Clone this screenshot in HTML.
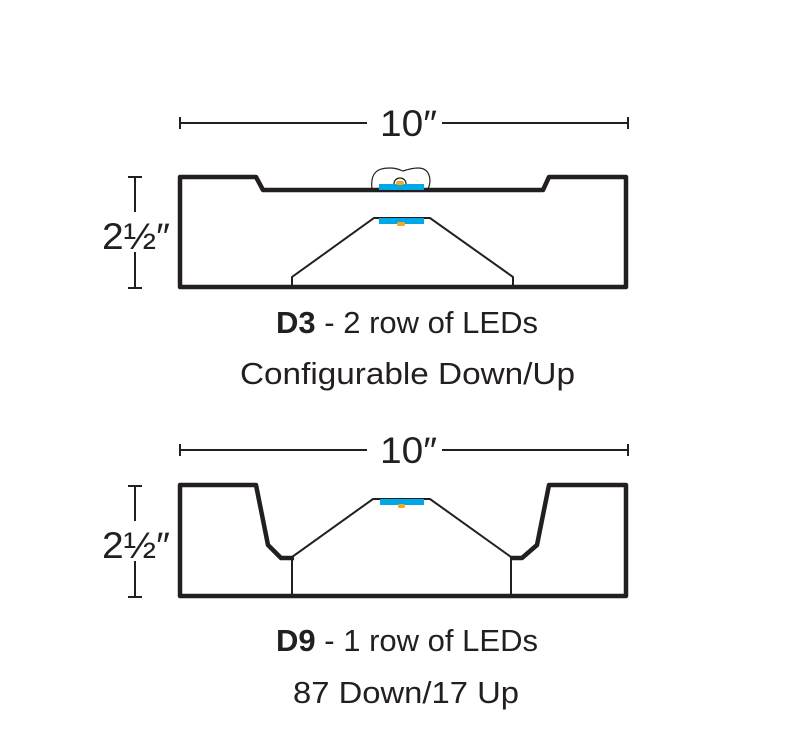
<!DOCTYPE html>
<html><head><meta charset="utf-8"><style>
html,body{margin:0;padding:0;background:#fff;}
svg{display:block;}
text{font-family:"Liberation Sans",sans-serif;fill:#231f20;}
</style></head><body>
<svg width="799" height="756" viewBox="0 0 799 756" xmlns="http://www.w3.org/2000/svg">
<g stroke="#231f20" fill="none">
<line x1="180" y1="123" x2="367" y2="123" stroke-width="2"/>
<line x1="442" y1="123" x2="628" y2="123" stroke-width="2"/>
<line x1="180" y1="117" x2="180" y2="129" stroke-width="2"/>
<line x1="628" y1="117" x2="628" y2="129" stroke-width="2"/>
<line x1="135" y1="177" x2="135" y2="212" stroke-width="2"/>
<line x1="135" y1="252" x2="135" y2="288" stroke-width="2"/>
<line x1="128" y1="177" x2="142" y2="177" stroke-width="2"/>
<line x1="128" y1="288" x2="142" y2="288" stroke-width="2"/>
<path d="M180 177 L256 177 L263 190 L543 190 L549 177 L626 177 L626 287 L180 287 Z" stroke-width="4.5" stroke-linejoin="round"/>
<path d="M292 287 L292 277 L374 218 L430 218 L513 277 L513 287" stroke-width="2"/>
<path d="M372 189 C370 172 378 168 390 168 C398 168 402 171 403 171 C406 170 412 168 418 168 C430 168 432 180 428 189" stroke-width="1.2"/>
<path d="M394 184 C394 176 406 176 406 184" stroke-width="1.2"/>
<line x1="180" y1="450" x2="367" y2="450" stroke-width="2"/>
<line x1="442" y1="450" x2="628" y2="450" stroke-width="2"/>
<line x1="180" y1="444" x2="180" y2="456" stroke-width="2"/>
<line x1="628" y1="444" x2="628" y2="456" stroke-width="2"/>
<line x1="135" y1="486" x2="135" y2="521" stroke-width="2"/>
<line x1="135" y1="561" x2="135" y2="597" stroke-width="2"/>
<line x1="128" y1="486" x2="142" y2="486" stroke-width="2"/>
<line x1="128" y1="597" x2="142" y2="597" stroke-width="2"/>
<path d="M294 558 L281 558 L268 545 L256 485 L180 485 L180 596 L626 596 L626 485 L549 485 L537 545 L522 558 L510 558" stroke-width="4.5" stroke-linejoin="round"/>
<path d="M292 596 L292 557 L373 499 L430 499 L511 557 L511 596" stroke-width="2"/>
</g>
<rect x="379" y="184" width="45" height="6" fill="#00a8e8"/>
<rect x="396" y="181" width="8" height="4" rx="2" fill="#f7a823"/>
<rect x="379" y="218" width="45" height="6" fill="#00a8e8"/>
<rect x="397" y="222" width="8" height="4" rx="1.5" fill="#f7a823"/>
<rect x="380" y="499" width="44" height="6" fill="#00a8e8"/>
<rect x="398" y="504" width="7" height="4" rx="1.5" fill="#f7a823"/>
<text x="380" y="136" font-size="37" textLength="57" lengthAdjust="spacingAndGlyphs">10″</text>
<text x="380" y="463" font-size="37" textLength="57" lengthAdjust="spacingAndGlyphs">10″</text>
<text x="102" y="249" font-size="37" textLength="68" lengthAdjust="spacingAndGlyphs">2½″</text>
<text x="102" y="558" font-size="37" textLength="68" lengthAdjust="spacingAndGlyphs">2½″</text>
<text x="276" y="333" font-size="31" textLength="262" lengthAdjust="spacingAndGlyphs"><tspan font-weight="bold">D3</tspan> - 2 row of LEDs</text>
<text x="240" y="384" font-size="31" textLength="335" lengthAdjust="spacingAndGlyphs">Configurable Down/Up</text>
<text x="276" y="651" font-size="31" textLength="262" lengthAdjust="spacingAndGlyphs"><tspan font-weight="bold">D9</tspan> - 1 row of LEDs</text>
<text x="293" y="703" font-size="31" textLength="226" lengthAdjust="spacingAndGlyphs">87 Down/17 Up</text>
</svg>
</body></html>
